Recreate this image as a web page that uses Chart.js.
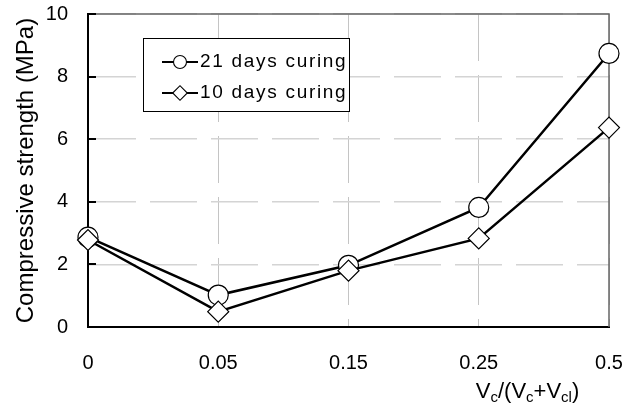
<!DOCTYPE html>
<html>
<head>
<meta charset="utf-8">
<script src="https://cdn.jsdelivr.net/npm/chart.js@4/dist/chart.umd.min.js"></script>
<style>
  html, body { margin: 0; padding: 0; background: #fff; }
  #wrap { width: 635px; height: 407px; }
</style>
</head>
<body>
<div id="wrap"><canvas id="c" width="635" height="407"></canvas></div>
<script>
// Volume ratio categories and compressive strength (MPa)
const categories = ['0', '0.05', '0.15', '0.25', '0.5'];
const days21 = [2.87, 1.02, 1.97, 3.82, 8.74];
const days10 = [2.78, 0.49, 1.80, 2.83, 6.37];
const seriesNames = ['21 days curing', '10 days curing'];
const yTicks = [0, 2, 4, 6, 8, 10];

const TICK_FONT = { family: "'Liberation Sans', Arial, sans-serif", size: 20 };

// keep the plot area fixed: no extra room for overhanging tick labels
function noOverhang(s) {
  s.paddingTop = 0; s.paddingBottom = 0; s.paddingLeft = 0; s.paddingRight = 0;
}

// Frame, inward ticks, boxed legend and the subscripted x-axis title
const decorations = {
  id: 'decorations',
  beforeDatasetsDraw(chart) {
    const { ctx, chartArea: a, scales } = chart;
    ctx.save();
    ctx.strokeStyle = '#666';
    ctx.lineWidth = 1.5;
    ctx.beginPath();
    ctx.moveTo(a.left, a.top);
    ctx.lineTo(a.right, a.top);
    ctx.lineTo(a.right, a.bottom);
    ctx.stroke();
    // short inward tick marks on the value axis
    ctx.strokeStyle = '#000';
    ctx.lineWidth = 2;
    scales.y.ticks.forEach(t => {
      const y = Math.round(scales.y.getPixelForValue(t.value));
      ctx.beginPath();
      ctx.moveTo(a.left, y);
      ctx.lineTo(a.left + 8, y);
      ctx.stroke();
    });
    ctx.restore();
  },
  afterDraw(chart) {
    const { ctx, chartArea: a } = chart;
    ctx.save();
    // legend box
    const bx = a.left + 55, by = a.top + 24, bw = 206, bh = 73;
    ctx.fillStyle = '#fff';
    ctx.fillRect(bx, by, bw, bh);
    ctx.strokeStyle = '#000';
    ctx.lineWidth = 1;
    ctx.strokeRect(bx + 0.5, by + 0.5, bw, bh);
    const rows = [by + 24, by + 55];
    chart.data.datasets.forEach((ds, i) => {
      const y = rows[i];
      ctx.strokeStyle = '#000';
      ctx.lineWidth = 1.8;
      ctx.beginPath();
      ctx.moveTo(bx + 19, y);
      ctx.lineTo(bx + 55, y);
      ctx.stroke();
      ctx.fillStyle = '#fff';
      ctx.lineWidth = 1.1;
      Chart.helpers.drawPoint(ctx, {
        pointStyle: ds.pointStyle,
        radius: ds.pointStyle === 'circle' ? 6.5 : 7.3,
        borderWidth: 1.1,
        rotation: 0
      }, bx + 37, y);
      ctx.fillStyle = '#000';
      ctx.font = "19px 'Liberation Sans', Arial, sans-serif";
      ctx.letterSpacing = '1.7px';
      ctx.textAlign = 'left';
      ctx.textBaseline = 'middle';
      ctx.fillText(ds.label, bx + 57, y);
      ctx.letterSpacing = '0px';
    });

    // x-axis title: Vc/(Vc+Vcl)
    const parts = [
      ['V', false], ['c', true], ['/(V', false], ['c', true],
      ['+V', false], ['cl', true], [')', false]
    ];
    const mainFont = "22px 'Liberation Sans', Arial, sans-serif";
    const subFont = "15px 'Liberation Sans', Arial, sans-serif";
    let total = 0;
    parts.forEach(([s, sub]) => { ctx.font = sub ? subFont : mainFont; total += ctx.measureText(s).width; });
    let x = a.right - 81.5 - total / 2;
    const base = 398;
    ctx.fillStyle = '#000';
    ctx.textAlign = 'left';
    ctx.textBaseline = 'alphabetic';
    parts.forEach(([s, sub]) => {
      ctx.font = sub ? subFont : mainFont;
      ctx.fillText(s, x, sub ? base + 4 : base);
      x += ctx.measureText(s).width;
    });
    ctx.restore();
  }
};

new Chart(document.getElementById('c'), {
  type: 'line',
  data: {
    labels: categories,
    datasets: [
      {
        label: seriesNames[0],
        data: days21,
        borderColor: '#000',
        borderWidth: 2.5,
        pointStyle: 'circle',
        pointRadius: 10,
        pointBorderWidth: 1.2,
        pointBackgroundColor: '#fff',
        pointBorderColor: '#000',
        tension: 0,
        order: 1
      },
      {
        label: seriesNames[1],
        data: days10,
        borderColor: '#000',
        borderWidth: 2.5,
        pointStyle: 'rectRot',
        pointRadius: 10.5,
        pointBorderWidth: 1.2,
        pointBackgroundColor: '#fff',
        pointBorderColor: '#000',
        tension: 0,
        order: 0
      }
    ]
  },
  options: {
    responsive: false,
    animation: false,
    devicePixelRatio: 1,
    layout: { padding: { top: 14, right: 26, left: 0, bottom: 0 } },
    plugins: {
      legend: { display: false },
      tooltip: { enabled: false }
    },
    scales: {
      x: {
        type: 'category',
        offset: false,
        grid: { color: '#c4c4c4', lineWidth: 1, drawTicks: false },
        border: { color: '#000', width: 2, dash: [47, 14] },
        ticks: { color: '#000', font: TICK_FONT, padding: 24, maxRotation: 0, autoSkip: false },
        afterFit(s) { s.height = 80; noOverhang(s); }
      },
      y: {
        min: 0,
        max: 10,
        afterBuildTicks(s) { s.ticks = yTicks.map(v => ({ value: v })); },
        grid: { color: '#d4d4d4', lineWidth: 1.5, drawTicks: false },
        border: { color: '#000', width: 2, dash: [47, 14] },
        ticks: { color: '#000', font: TICK_FONT, padding: 20 },
        title: {
          display: true,
          text: 'Compressive strength (MPa)',
          color: '#000',
          font: { family: "'Liberation Sans', Arial, sans-serif", size: 24 },
          padding: { top: 11.6, bottom: 0 }
        },
        afterFit(s) { s.width = 88; noOverhang(s); }
      }
    }
  },
  plugins: [decorations]
});
</script>
</body>
</html>
